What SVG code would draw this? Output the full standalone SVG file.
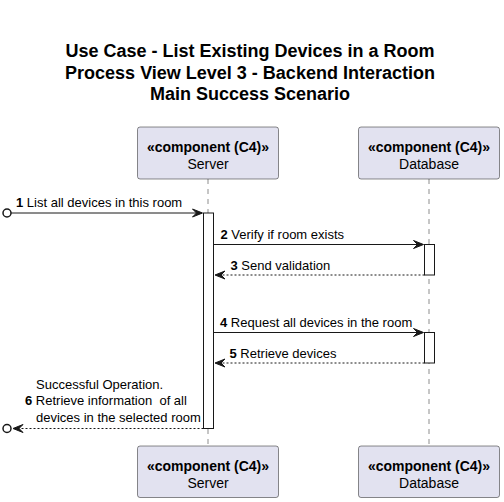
<svg xmlns="http://www.w3.org/2000/svg" width="504" height="502" viewBox="0 0 504 502">
<style>
text{font-family:"Liberation Sans",Arial,sans-serif;fill:#000}
.title{font-size:18px;font-weight:bold;text-anchor:middle}
.st{font-size:14px;font-weight:bold;text-anchor:middle}
.nm{font-size:14px;text-anchor:middle}
.msg{font-size:13px;white-space:pre}
.b{font-weight:bold}
.box{fill:#E2E2F0;stroke:#181818;stroke-width:0.5}
.life{stroke:#181818;stroke-width:0.5;stroke-dasharray:5,5;fill:none}
.act{fill:#FFFFFF;stroke:#181818;stroke-width:1}
.ln{stroke:#181818;stroke-width:1;fill:none}
.dl{stroke:#181818;stroke-width:1;fill:none;stroke-dasharray:2,2}
.ah{fill:#181818;stroke:#181818;stroke-width:1}
.circ{fill:none;stroke:#181818;stroke-width:1.5}
</style>
<rect width="504" height="502" fill="#FFFFFF"/>
<g id="title">
<text class="title" x="250" y="57">Use Case - List Existing Devices in a Room</text>
<text class="title" x="250" y="78.5">Process View Level 3 - Backend Interaction</text>
<text class="title" x="250" y="100">Main Success Scenario</text>
</g>
<g id="lifelines">
<line class="life" x1="208" y1="179" x2="208" y2="446"/>
<line class="life" x1="429" y1="179" x2="429" y2="446"/>
</g>
<g id="server">
<rect class="box" x="137.5" y="127" width="141" height="52" rx="2.5"/>
<text class="st" x="208" y="151.5">«component (C4)»</text>
<text class="nm" x="208" y="169">Server</text>
<rect class="box" x="137.5" y="446" width="141" height="51.5" rx="2.5"/>
<text class="st" x="208" y="470.5">«component (C4)»</text>
<text class="nm" x="208" y="488">Server</text>
</g>
<g id="database">
<rect class="box" x="358.5" y="127" width="141" height="52" rx="2.5"/>
<text class="st" x="429" y="151.5">«component (C4)»</text>
<text class="nm" x="429" y="169">Database</text>
<rect class="box" x="358.5" y="446" width="141" height="51.5" rx="2.5"/>
<text class="st" x="429" y="470.5">«component (C4)»</text>
<text class="nm" x="429" y="488">Database</text>
</g>
<g id="activations">
<rect class="act" x="203.5" y="213" width="10" height="215.5"/>
<rect class="act" x="424.5" y="244.5" width="10" height="30.5"/>
<rect class="act" x="424.5" y="332.5" width="10" height="30.5"/>
</g>
<g id="connectors">
<circle class="circ" cx="7" cy="213" r="4"/>
<line class="ln" x1="11" y1="213" x2="202" y2="213"/>
<polygon class="ah" points="192.5,209 202.5,213 192.5,217 196.5,213"/>
<text class="msg" x="16" y="207"><tspan class="b">1</tspan> List all devices in this room</text>

<line class="ln" x1="213.5" y1="244.5" x2="423" y2="244.5"/>
<polygon class="ah" points="413.5,240.5 423.5,244.5 413.5,248.5 417.5,244.5"/>
<text class="msg" x="220.5" y="239"><tspan class="b">2</tspan> Verify if room exists</text>

<line class="dl" x1="424.5" y1="275" x2="216" y2="275"/>
<polygon class="ah" points="225,271 215,275 225,279 221,275"/>
<text class="msg" x="230.5" y="270"><tspan class="b">3</tspan> Send validation</text>

<line class="ln" x1="213.5" y1="332.5" x2="423" y2="332.5"/>
<polygon class="ah" points="413.5,328.5 423.5,332.5 413.5,336.5 417.5,332.5"/>
<text class="msg" x="220" y="327"><tspan class="b">4</tspan> Request all devices in the room</text>

<line class="dl" x1="424.5" y1="363" x2="216" y2="363"/>
<polygon class="ah" points="225,359 215,363 225,367 221,363"/>
<text class="msg" x="229.5" y="357.5"><tspan class="b">5</tspan> Retrieve devices</text>

<circle class="circ" cx="7" cy="428.5" r="4"/>
<line class="dl" x1="203.5" y1="428.5" x2="13" y2="428.5"/>
<polygon class="ah" points="23,424.5 13,428.5 23,432.5 19,428.5"/>
<text class="msg" x="36" y="388.5">Successful Operation.</text>
<text class="msg" x="25" y="405"><tspan class="b">6</tspan> Retrieve information  of all</text>
<text class="msg" x="36" y="421.5">devices in the selected room</text>
</g>
</svg>
